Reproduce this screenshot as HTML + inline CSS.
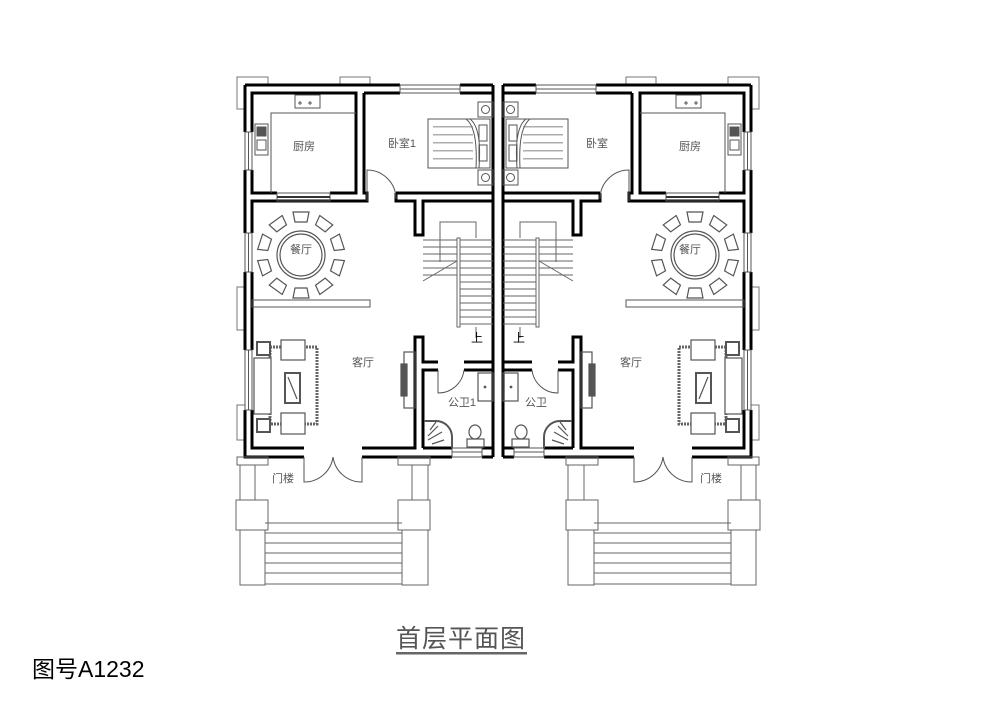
<!DOCTYPE html>
<html><head><meta charset="utf-8"><style>
html,body{margin:0;padding:0;background:#fff;}
svg{display:block;}
.t{font-family:"Liberation Sans","Noto Sans CJK SC",sans-serif;font-size:11px;fill:#555;text-anchor:middle;}
</style></head><body>
<svg width="1000" height="707" viewBox="0 0 1000 707" xmlns="http://www.w3.org/2000/svg">
<defs>
<g id="half" fill="none">
  <!-- corner / edge trims -->
  <g stroke="#777" stroke-width="1">
    <path d="M245,77 H237 V109 H245"/>
    <path d="M237,77 H268 V85"/>
    <path d="M340,85 V77 H370 V85"/>
    <path d="M245,287 H237 V330 H245"/>
    <path d="M245,405 H237 V440 H245"/>
  </g>
  <!-- main walls -->
  <g stroke="#000" stroke-width="3" stroke-linejoin="miter">
    <path d="M245,85 H400 M460,85 H493"/>
    <path d="M245,85 V132 M245,170 V233 M245,272 V350 M245,410 V457 H304"/>
    <path d="M362,457 H452 M482,457 H493"/>
    <path d="M493,85 V457"/>
    <!-- kitchen -->
    <path d="M252,132 V93 H356 V193 H330 M277,193 H252 V170"/>
    <!-- bedroom -->
    <path d="M364,93 H400 M460,93 H493"/>
    <path d="M364,93 V193 H367 V201 H252 V233"/>
    <path d="M252,272 V350 M252,410 V448 H304"/>
    <path d="M396,193 V201 H415 V235 H423 V201 H493"/>
    <path d="M396,193 H493"/>
    <!-- living/bath walls -->
    <path d="M362,448 H415 V337 H423 V362 H438 M464,362 H493"/>
    <path d="M423,448 V370 H438 M464,370 H493"/>
    <path d="M423,448 H452 M482,448 H493"/>
  </g>
  <!-- windows -->
  <g stroke="#555" stroke-width="1">
    <rect x="400" y="85" width="60" height="8"/><line x1="400" y1="89" x2="460" y2="89"/>
    <rect x="245" y="132" width="7" height="38"/><line x1="248.5" y1="132" x2="248.5" y2="170"/>
    <rect x="245" y="233" width="7" height="39"/><line x1="248.5" y1="233" x2="248.5" y2="272"/>
    <rect x="245" y="350" width="7" height="60"/><line x1="248.5" y1="350" x2="248.5" y2="410"/>
    <rect x="277" y="193" width="53" height="8"/><line x1="277" y1="197" x2="330" y2="197" stroke="#333" stroke-width="2"/>
  </g>
  <!-- divider -->
  <rect x="252" y="300" width="118" height="7" stroke="#555" stroke-width="1"/>
  <!-- doors -->
  <g stroke="#555" stroke-width="1">
    <path d="M367,201 V170 A29,29 0 0 1 396,199"/>
    <path d="M304,457 V482 A29,29 0 0 0 333,457 M362,457 V482 A29,29 0 0 1 333,457"/>
    <path d="M438,370 V393 A26,26 0 0 0 464,370"/>
  </g>
  <!-- kitchen fixtures -->
  <g stroke="#555" stroke-width="1">
    <path d="M271,193 V113 H356"/>
    <rect x="295" y="95" width="25" height="13"/>
    <rect x="255" y="124" width="13" height="31"/>
    <rect x="257" y="127" width="9" height="9" fill="#555"/>
    <rect x="257" y="140" width="9" height="10"/>
  </g>
  <g stroke="#555" stroke-width="1">
    <path d="M300,101 v4 M298,103 h4 M310,101 v4 M308,103 h4"/>
  </g>
  <!-- bed -->
  <g stroke="#555" stroke-width="1">
    <rect x="428" y="119" width="62" height="49"/>
    <rect x="479" y="125" width="8" height="16"/><rect x="479" y="145" width="8" height="16"/>
    <path d="M466,119 Q478,128 476,168 M470,119 Q482,128 479,168"/>
    <rect x="478" y="102" width="15" height="15"/><circle cx="485.5" cy="109.5" r="4"/>
    <rect x="478" y="170" width="15" height="15"/><circle cx="485.5" cy="177.5" r="4"/>
  </g>
  <g fill="#777">
    <rect x="433" y="126" width="40" height="1.5" opacity=".6"/>
    <rect x="433" y="134" width="40" height="1.5" opacity=".6"/>
    <rect x="433" y="142" width="40" height="1.5" opacity=".6"/>
    <rect x="433" y="150" width="40" height="1.5" opacity=".6"/>
    <rect x="433" y="158" width="40" height="1.5" opacity=".6"/>
  </g>
  <!-- dining -->
  <g stroke="#555" stroke-width="1.2">
    <circle cx="301" cy="255" r="24"/><circle cx="301" cy="255" r="21"/>
    <g id="chair"><path d="M295,222 L307,222 L309,212 L293,212 Z"/></g>
    <use href="#chair" transform="rotate(36 301 255)"/>
    <use href="#chair" transform="rotate(72 301 255)"/>
    <use href="#chair" transform="rotate(108 301 255)"/>
    <use href="#chair" transform="rotate(144 301 255)"/>
    <use href="#chair" transform="rotate(180 301 255)"/>
    <use href="#chair" transform="rotate(216 301 255)"/>
    <use href="#chair" transform="rotate(252 301 255)"/>
    <use href="#chair" transform="rotate(288 301 255)"/>
    <use href="#chair" transform="rotate(324 301 255)"/>
  </g>
  <!-- stairs -->
  <g stroke="#666" stroke-width="1">
    <path d="M440,262 V222 H476 V238"/>
    <rect x="457" y="238" width="3" height="89"/>
    <path d="M423,240 H457 M423,247 H457 M423,254 H457 M423,261 H457 M423,268 H457 M423,275 H457"/>
    <path d="M460,240 H493 M460,247 H493 M460,254 H493 M460,261 H493 M460,268 H493 M460,275 H493 M460,282 H493 M460,289 H493 M460,296 H493 M460,303 H493 M460,310 H493 M460,317 H493 M460,324 H493"/>
    <path d="M423,281 L457,261 M476,327 V338"/>
  </g>
  <!-- living -->
  <g stroke="#555" stroke-width="1.2">
    <rect x="270" y="347" width="47" height="77" stroke-width="3" stroke="#666" stroke-dasharray="2,1"/>
    <rect x="254" y="358" width="17" height="56" fill="#fff"/>
    <rect x="281" y="340" width="24" height="20" fill="#fff"/>
    <rect x="281" y="413" width="24" height="21" fill="#fff"/>
    <rect x="257" y="342" width="13" height="13" fill="#fff" stroke-width="2"/>
    <rect x="257" y="419" width="13" height="13" fill="#fff" stroke-width="2"/>
    <rect x="285" y="373" width="15" height="30" stroke-width="2"/>
    <path d="M288,377 L297,399"/>
    <rect x="404" y="352" width="11" height="56"/>
    <rect x="401" y="364" width="6" height="32" fill="#555"/>
  </g>
  <!-- bath -->
  <g stroke="#555" stroke-width="1.2">
    <path d="M424,421 H436 A16,16 0 0 1 452,437 V448" stroke-width="2"/>
    <path d="M428,436 l10,-10 M428,440 l14,-8 M432,444 l12,-4 M430,430 l6,-8"/>
    <rect x="478" y="373" width="15" height="28"/>
    <circle cx="485" cy="387" r="0.8" fill="#555"/>
    <ellipse cx="475" cy="432" rx="6" ry="7"/>
    <rect x="467" y="439" width="17" height="8"/>
    <rect x="452" y="448" width="30" height="9" stroke-width="1"/>
    <path d="M452,452 H482" stroke-width="1"/>
  </g>
  <!-- porch -->
  <g stroke="#666" stroke-width="1">
    <rect x="237" y="457" width="31" height="8"/>
    <rect x="240" y="465" width="15" height="35"/>
    <rect x="236" y="500" width="32" height="30"/>
    <rect x="240" y="530" width="25" height="55"/>
    <rect x="398" y="457" width="32" height="8"/>
    <rect x="412" y="465" width="16" height="35"/>
    <rect x="398" y="500" width="32" height="30"/>
    <rect x="402" y="530" width="26" height="55"/>
    <path d="M265,523 H402 M265,533 H402 M265,543 H402 M265,553 H402 M265,563 H402 M265,573 H402 M265,584 H402"/>
  </g>
</g>
</defs>
<use href="#half"/>
<use href="#half" transform="translate(996,0) scale(-1,1)"/>
<g class="t">
  <text x="304" y="150">厨房</text>
  <text x="402" y="147">卧室1</text>
  <text x="301" y="253">餐厅</text>
  <text x="363" y="366">客厅</text>
  <text x="462" y="406">公卫1</text>
  <text x="283" y="482">门楼</text>
  <text x="477" y="342" style="font-size:12px;fill:#000">上</text>
  <text x="690" y="150">厨房</text>
  <text x="597" y="147">卧室</text>
  <text x="690" y="253">餐厅</text>
  <text x="631" y="366">客厅</text>
  <text x="536" y="406">公卫</text>
  <text x="711" y="482">门楼</text>
  <text x="519" y="342" style="font-size:12px;fill:#000">上</text>
</g>
<text x="461" y="647" style="font-family:'Liberation Sans','Noto Sans CJK SC',sans-serif;font-size:25px;fill:#555;text-anchor:middle;letter-spacing:1px">首层平面图</text>
<rect x="396" y="652" width="131" height="2.5" fill="#666"/>
<text x="32" y="677" style="font-family:'Liberation Sans','Noto Sans CJK SC',sans-serif;font-size:23px;fill:#000">图号A1232</text>
</svg>
</body></html>
